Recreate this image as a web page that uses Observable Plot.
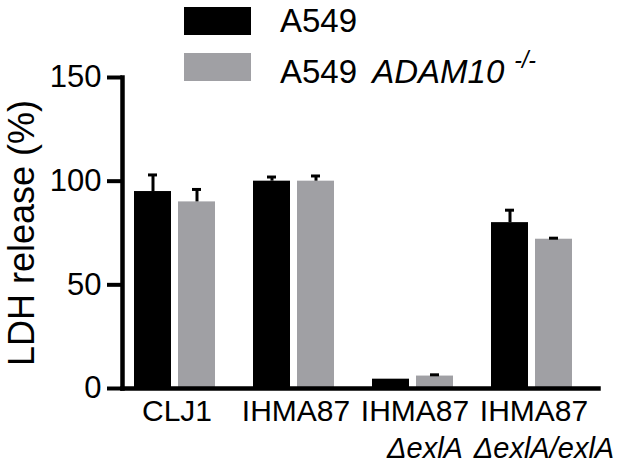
<!DOCTYPE html>
<html>
<head>
<meta charset="utf-8">
<script src="https://cdn.jsdelivr.net/npm/d3@7"></script>
<script src="https://cdn.jsdelivr.net/npm/@observablehq/plot@0.6"></script>
<style>
  html, body { margin: 0; padding: 0; background: #fff; }
  #wrap { position: relative; width: 625px; height: 466px; font-family: "Liberation Sans", Arial, sans-serif; color: #000; }
  #chart { position: absolute; left: 0; top: 0; }
  .sw { position: absolute; left: 184px; width: 67px; height: 28px; }
  .lt { position: absolute; left: 280px; font-size: 33px; line-height: 33px; white-space: nowrap; }
</style>
</head>
<body>
<div id="wrap">
  <div id="chart"></div>
  <div class="sw" style="top:7px;background:#000"></div>
  <div class="lt" style="top:4px">A549</div>
  <div class="sw" style="top:53px;background:#a0a0a4"></div>
  <div class="lt" style="top:55px">A549 <i style="margin-left:6px">ADAM10</i><span style="font-size:23px;position:relative;top:-15px;margin-left:10px;font-style:italic">-/-</span></div>
</div>
<script>
// Data
const groups = ["CLJ1", "IHMA87", "IHMA87 ΔexlA", "IHMA87 ΔexlA/exlA"];
const groupLine1 = ["CLJ1", "IHMA87", "IHMA87", "IHMA87"];
const groupLine2 = ["", "", "ΔexlA", "ΔexlA/exlA"];
const series = ["A549", "A549 ADAM10 -/-"];
const a549Values = [95, 100, 4.5, 80];
const a549Errors = [8, 2, 0, 6];
const adam10Values = [90, 100, 6, 72];
const adam10Errors = [6, 2.5, 0.6, 0.5];
const yTicks = [0, 50, 100, 150];
const seriesColors = ["#000000", "#a0a0a4"];

const rows = [];
groups.forEach((g, i) => {
  rows.push({group: g, series: series[0], value: a549Values[i], err: a549Errors[i]});
  rows.push({group: g, series: series[1], value: adam10Values[i], err: adam10Errors[i]});
});
const subLabels = groups.map((g, i) => ({group: g, sub: groupLine2[i]})).filter(d => d.sub);

const chart = Plot.plot({
  width: 625,
  height: 466,
  marginLeft: 122,
  marginRight: 38,
  marginTop: 77,
  marginBottom: 78,
  style: {fontFamily: "'Liberation Sans', Arial, sans-serif", color: "#000", background: "transparent", overflow: "visible"},
  fx: {domain: groups, range: [122, 598.8], padding: 0},
  x: {domain: series, axis: null, paddingInner: 7 / 45, paddingOuter: 0.402, align: 0.312},
  y: {domain: [0, 150]},
  color: {domain: series, range: seriesColors},
  marks: [
    Plot.barY(rows, {fx: "group", x: "series", y: "value", fill: "series"}),
    Plot.ruleX(rows.filter(d => d.err > 0), {fx: "group", x: "series", y1: "value", y2: d => d.value + d.err, stroke: "#000", strokeWidth: 3}),
    Plot.tickY(rows.filter(d => d.err > 0), {fx: "group", x: "series", y: d => d.value + d.err, stroke: "#000", strokeWidth: 3, insetLeft: 14, insetRight: 14}),
    Plot.frame({anchor: "bottom", stroke: "#000", strokeWidth: 4.5, clip: false, facet: "super"}),
    Plot.frame({anchor: "left", stroke: "#000", strokeWidth: 4.5, strokeLinecap: "square", clip: false, facet: "super"}),
    Plot.axisY({ticks: yTicks, tickSize: 15, tickPadding: 6, fontSize: 31, stroke: "#000", strokeWidth: 4, label: null}),
    Plot.axisY({ticks: [], label: "LDH release (%)", labelAnchor: "center", labelArrow: "none", labelOffset: 114, fontSize: 36}),
    Plot.axisFx({anchor: "bottom", tickSize: 0, tickPadding: 11, fontSize: 30, label: null, dx: -5,
      tickFormat: d => groupLine1[groups.indexOf(d)]}),
    Plot.text(subLabels, {fx: "group", text: "sub", frameAnchor: "bottom", lineAnchor: "top", dy: 49, dx: 5, fontSize: 29, fontStyle: "italic"})
  ]
});
document.getElementById("chart").appendChild(chart);
</script>
</body>
</html>
